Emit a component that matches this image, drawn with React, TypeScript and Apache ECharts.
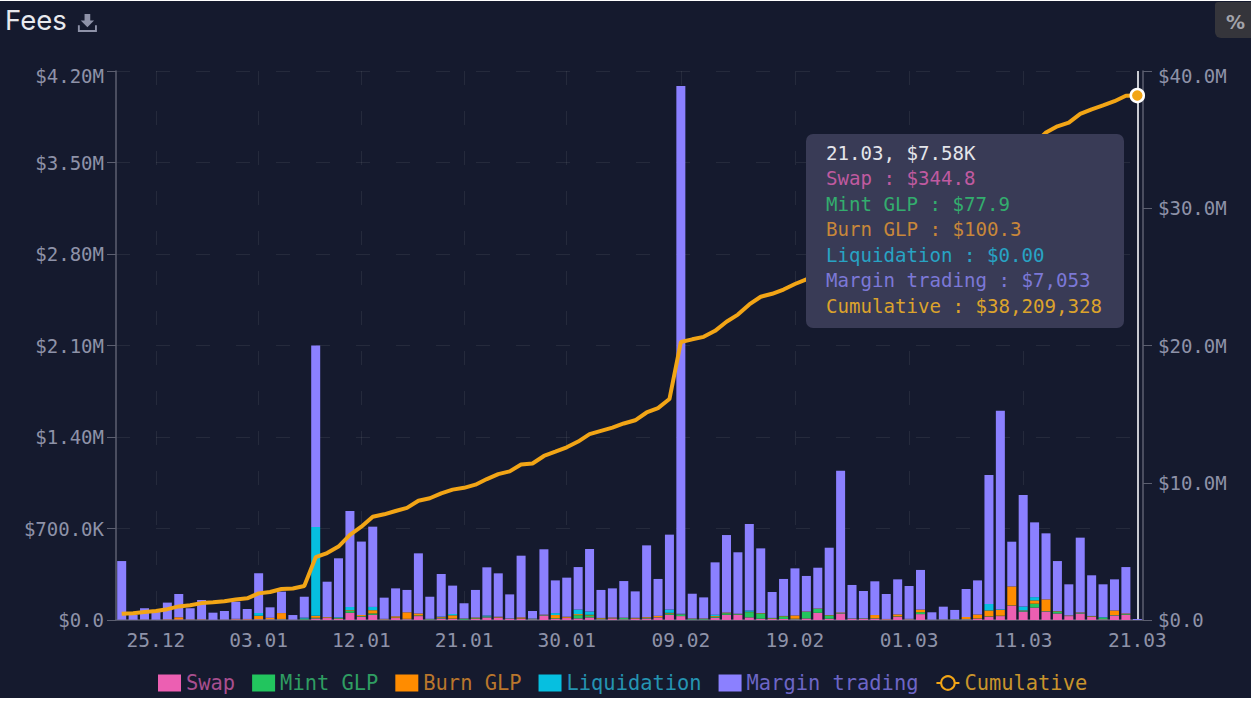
import React, { useEffect, useRef } from "react";
import * as echarts from "echarts";

const categories = [
  "22.12","23.12","24.12","25.12","26.12","27.12","28.12","29.12","30.12","31.12",
  "01.01","02.01","03.01","04.01","05.01","06.01","07.01","08.01","09.01","10.01","11.01","12.01","13.01","14.01","15.01","16.01","17.01","18.01","19.01","20.01","21.01","22.01","23.01","24.01","25.01","26.01","27.01","28.01","29.01","30.01","31.01",
  "01.02","02.02","03.02","04.02","05.02","06.02","07.02","08.02","09.02","10.02","11.02","12.02","13.02","14.02","15.02","16.02","17.02","18.02","19.02","20.02","21.02","22.02","23.02","24.02","25.02","26.02","27.02","28.02",
  "01.03","02.03","03.03","04.03","05.03","06.03","07.03","08.03","09.03","10.03","11.03","12.03","13.03","14.03","15.03","16.03","17.03","18.03","19.03","20.03","21.03",
];
const shownTicks = ["25.12","03.01","12.01","21.01","30.01","09.02","19.02","01.03","11.03","21.03"];
const leftTicks = ["$0.0","$700.0K","$1.40M","$2.10M","$2.80M","$3.50M","$4.20M"];
const rightTicks = ["$0.0","$10.0M","$20.0M","$30.0M","$40.0M"];

// values in $K
const swap = [2,1,2,2,3,5,2,3,1,2,5,5,5,5,5,1,3,12,15,8,55,25,40,4,15,6,30,3,12,8,2,8,20,18,8,10,5,35,8,15,12,20,5,12,5,10,12,20,40,30,3,3,18,40,40,20,10,8,8,5,12,55,10,50,8,8,10,5,25,5,45,1,2,2,5,10,25,30,110,65,95,65,50,30,50,25,5,35,40,0.3448];
const mintGlp = [1,0,1,1,1,1,1,1,0,1,1,1,3,2,3,1,5,5,2,5,15,5,10,2,3,3,5,4,6,3,8,5,3,2,2,2,5,3,5,2,25,15,6,2,10,2,5,2,10,10,6,6,6,12,5,40,40,5,20,5,50,30,25,3,2,3,3,1,3,2,15,1,2,3,3,2,3,3,2,3,30,3,15,2,5,3,10,3,5,0.0779];
const burnGlp = [0,1,1,0,2,15,2,2,1,1,3,2,25,10,45,1,2,15,5,3,5,8,25,3,10,50,15,2,5,25,2,6,3,5,2,8,1,3,25,8,8,5,5,5,3,5,5,10,5,3,3,3,6,5,3,3,3,3,3,25,3,3,3,5,2,2,25,2,15,2,20,1,1,1,15,30,45,45,145,5,25,90,3,3,3,3,3,35,5,0.1003];
const liquidation = [0,0,0,0,0,0,0,0,0,0,0,0,20,0,0,0,8,680,0,5,25,0,25,0,0,0,0,0,3,10,0,0,8,0,0,0,0,0,15,0,35,25,0,0,0,0,0,0,25,5,0,0,10,0,0,10,0,0,0,0,0,0,0,0,0,0,0,0,0,0,0,0,0,0,0,0,50,5,0,30,25,0,0,0,0,0,5,0,0,0];
const marginTrading = [448,38,86,73,127,178,85,147,54,65,131,76,304,80,164,35,160,1388,271,451,734,562,614,162,214,171,460,169,326,217,116,211,369,332,184,472,58,500,250,299,325,478,214,223,280,202,549,282,573,4037,189,161,401,593,470,661,495,198,283,360,272,312,515,1084,256,209,258,191,268,251,303,56,97,71,214,261,986,1518,342,853,572,505,383,238,572,311,250,238,355,7.053];
// values in $M
const cumulative = [0.45,0.49,0.58,0.66,0.79,0.99,1.08,1.23,1.29,1.36,1.50,1.58,1.94,2.04,2.26,2.30,2.48,4.58,4.88,5.35,6.20,6.80,7.52,7.70,7.94,8.17,8.69,8.87,9.23,9.50,9.63,9.86,10.27,10.63,10.83,11.33,11.40,11.95,12.26,12.58,13.00,13.54,13.78,14.02,14.32,14.55,15.12,15.44,16.10,20.25,20.45,20.63,21.07,21.73,22.25,22.99,23.55,23.77,24.08,24.48,24.82,25.23,25.78,26.93,27.20,27.43,27.73,27.93,28.24,28.51,28.89,28.95,29.05,29.13,29.37,29.68,30.80,32.41,33.01,33.97,34.72,35.52,35.97,36.24,36.87,37.21,37.49,37.80,38.20,38.21];

const names = ["Swap", "Mint GLP", "Burn GLP", "Liquidation", "Margin trading"];
const colors = ["#ec5fb2", "#22c55e", "#ff8c00", "#06bfe0", "#8b80ff"];
const legendTextColors = ["#a84f8f", "#2f9d62", "#b9762c", "#2594b2", "#6d66c6"];
const lineColor = "#f2a516";
const cumulativeTextColor = "#c9942c";
const tooltipTitle = "21.03, $7.58K";
const tooltipRows = ["Swap : $344.8", "Mint GLP : $77.9", "Burn GLP : $100.3", "Liquidation : $0.00", "Margin trading : $7,053", "Cumulative : $38,209,328"];
const tooltipColors = ["#c05aa0", "#33ad6e", "#c8873a", "#28a3c4", "#7c78d6", "#dca32c"];

const MONO = '"DejaVu Sans Mono", monospace';
const BG = "#151a2e";
const TICK = "#8e92a8";
const GRID = "rgba(255,255,255,0.07)";
const AXIS = "#5c5f70";
const TICK_SIZE = 19;

echarts.graphic.registerShape(
  "downloadIcon",
  echarts.graphic.extendPath("M9 2h6v7h4l-7 7-7-7h4z M2 14h2v5h16v-5h2v7H2z", {})
);

const topRich = {
  top: { color: TICK, fontFamily: MONO, fontSize: TICK_SIZE, padding: [10, 0, 0, 0] },
};

export default function App() {
  const ref = useRef<HTMLDivElement>(null);
  useEffect(() => {
    document.body.style.margin = "0";
    const chart = echarts.init(ref.current!, undefined, { renderer: "svg" });
    const tickFilter = (_: number, v: string) => shownTicks.includes(v);
    const dataSource = [swap, mintGlp, burnGlp, liquidation, marginTrading];
    chart.setOption({
      animation: false,
      backgroundColor: "#ffffff",
      textStyle: { fontFamily: MONO },
      grid: { left: 116, right: 116, top: 71, bottom: 82 },
      legend: {
        left: 153,
        top: 668,
        itemWidth: 23,
        itemHeight: 17,
        itemGap: 17,
        itemStyle: { borderWidth: 0 },
        textStyle: { fontFamily: MONO, fontSize: 20.4 },
        data: [
          ...names.map((name, i) => ({ name, icon: "rect", textStyle: { color: legendTextColors[i] } })),
          {
            name: "Cumulative",
            itemStyle: { color: BG, borderColor: lineColor, borderWidth: 2 },
            textStyle: { color: cumulativeTextColor },
          },
        ],
      },
      xAxis: {
        type: "category",
        data: categories,
        boundaryGap: true,
        axisLine: { lineStyle: { color: AXIS, width: 1.5 } },
        axisTick: { alignWithLabel: true, interval: tickFilter, length: 6, lineStyle: { color: AXIS } },
        axisLabel: { interval: tickFilter, color: TICK, fontFamily: MONO, fontSize: 19.5, margin: 10, hideOverlap: false },
        splitLine: { show: true, alignWithLabel: true, interval: tickFilter, lineStyle: { color: GRID, type: [14, 26] } },
      },
      yAxis: [
        {
          type: "value", min: 0, max: 4200000, interval: 700000, position: "left",
          axisLine: { show: true, lineStyle: { color: AXIS, width: 1.5 } },
          axisTick: { show: true, length: 9, lineStyle: { color: AXIS } },
          axisLabel: { color: TICK, fontFamily: MONO, fontSize: TICK_SIZE, margin: 12, rich: topRich,
            formatter: (v: number) => {
              const i = Math.round(v / 700000);
              return i === leftTicks.length - 1 ? `{top|${leftTicks[i]}}` : leftTicks[i];
            } },
          splitLine: { show: true, lineStyle: { color: GRID, type: [14, 26] } },
        },
        {
          type: "value", min: 0, max: 40000000, interval: 10000000, position: "right",
          axisLine: { show: true, lineStyle: { color: AXIS, width: 1.5 } },
          axisTick: { show: true, length: 9, lineStyle: { color: AXIS } },
          axisLabel: { color: TICK, fontFamily: MONO, fontSize: TICK_SIZE, margin: 15, rich: topRich,
            formatter: (v: number) => {
              const i = Math.round(v / 10000000);
              return i === rightTicks.length - 1 ? `{top|${rightTicks[i]}}` : rightTicks[i];
            } },
          splitLine: { show: false },
        },
      ],
      series: [
        ...names.map((name, i) => ({
          name,
          type: "bar",
          stack: "fees",
          barWidth: 9,
          yAxisIndex: 0,
          itemStyle: { color: colors[i] },
          data: dataSource[i].map((v) => v * 1000),
        })),
        {
          name: "Cumulative",
          type: "line",
          yAxisIndex: 1,
          z: 5,
          symbol: "circle",
          symbolSize: (_: number, p: any) => (p.dataIndex === cumulative.length - 1 ? 13 : 0),
          showAllSymbol: true,
          lineStyle: { color: lineColor, width: 4 },
          itemStyle: { color: lineColor, borderColor: "#ffffff", borderWidth: 2.5, opacity: 1 },
          data: cumulative.map((v) => v * 1000000),
          markLine: {
            silent: true,
            symbol: "none",
            label: { show: false },
            lineStyle: { color: "#c9cbd2", width: 2, type: "solid" },
            data: [{ xAxis: "21.03" }],
            z: 1,
          },
        },
      ],
      graphic: [
        { type: "rect", z: -10, silent: true, shape: { x: 0, y: 1, width: 1251, height: 697 }, style: { fill: BG } },
        { type: "text", z: 10, x: 5, y: 6, style: { text: "Fees", fill: "#e8e9ee", font: "27.5px Inter" } },
        { type: "downloadIcon", z: 10, x: 76, y: 12, scaleX: 0.95, scaleY: 0.95, style: { fill: "#8e92a8" } },
        { type: "rect", z: 10, shape: { x: 1215, y: 2, width: 36, height: 36, r: [3, 0, 0, 6] }, style: { fill: "#35353b" } },
        { type: "text", z: 11, x: 1226, y: 12, style: { text: "%", fill: "#a2a3aa", font: 'bold 19px "DejaVu Sans"' } },
        { type: "rect", z: 20, shape: { x: 806, y: 134, width: 318, height: 194, r: 7 }, style: { fill: "#393b56" } },
        { type: "text", z: 21, x: 826, y: 144, style: { text: tooltipTitle, fill: "#e4e5ea", font: `19.1px ${MONO}` } },
        ...tooltipRows.map((t, i) => ({
          type: "text", z: 21, x: 826, y: 169 + i * 25.5,
          style: { text: t, fill: tooltipColors[i], font: `19.1px ${MONO}` },
        })),
      ],
    });
    return () => chart.dispose();
  }, []);
  return <div ref={ref} style={{ width: 1259, height: 702 }} />;
}
